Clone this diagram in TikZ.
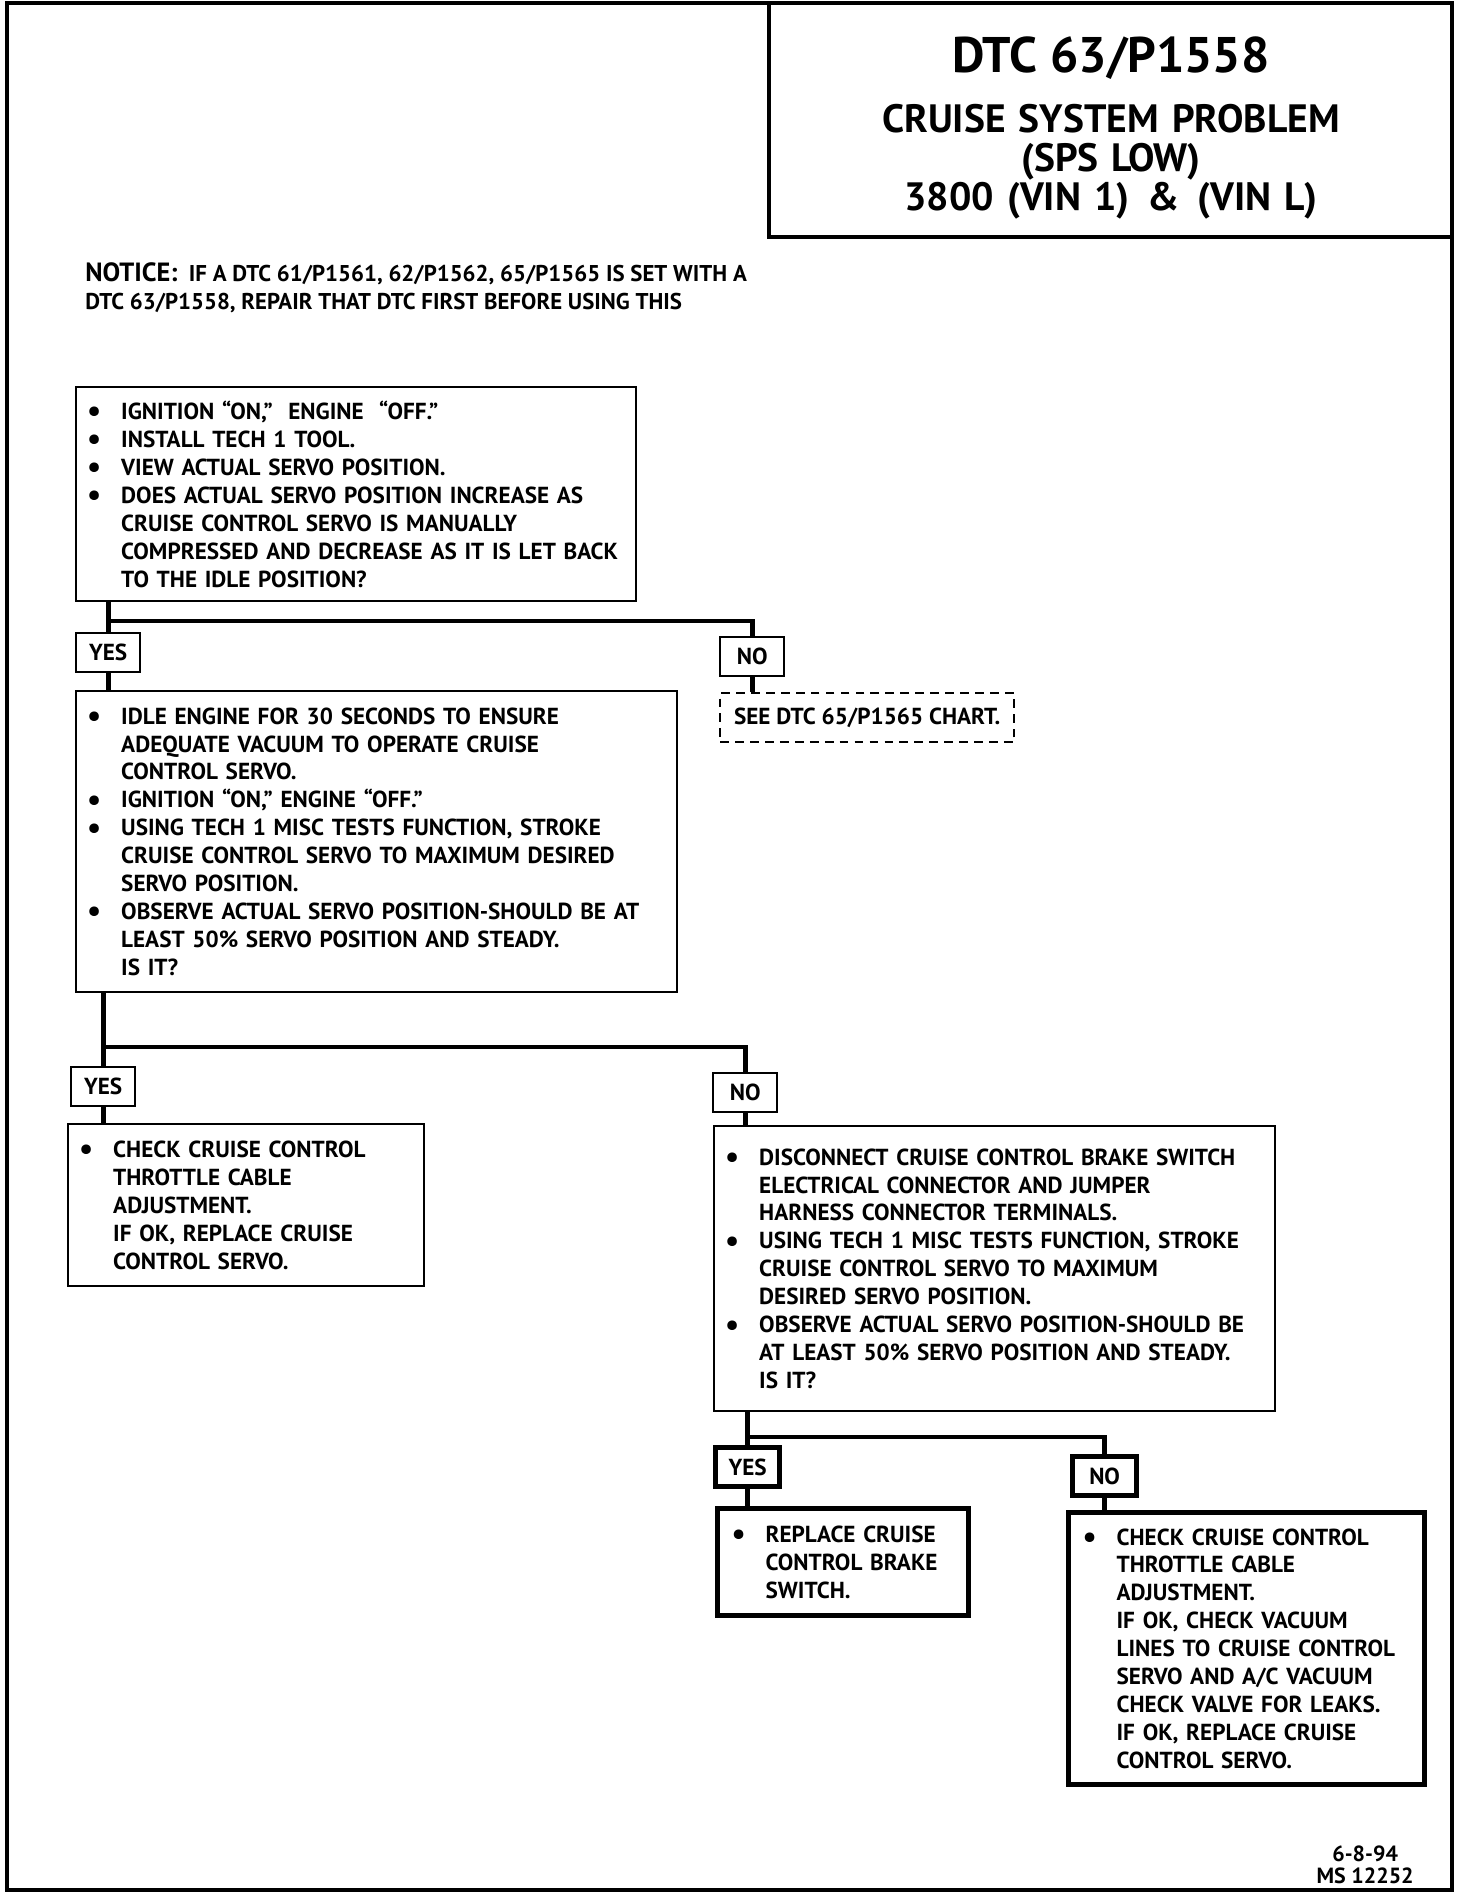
\documentclass[tikz,border=0pt]{standalone}
\usepackage{fontspec}
\setmainfont{PT Sans}

\newcommand{\bul}{\makebox[0.68cm][l]{\raisebox{-0.1em}{\scalebox{1.35}{\textbullet}}}}
\newcommand{\ind}{\hspace*{0.68cm}}

\begin{document}
\begin{tikzpicture}[
    x=0.02cm, y=-0.02cm,
    font=\bfseries\fontsize{13.2}{15.9}\selectfont,
    frame/.style={draw, line width=2.4pt},
    stepbox/.style={draw, line width=1.4pt, anchor=north west, align=left, inner xsep=0.22cm, inner ysep=0pt, text width=#1},
    finalbox/.style={stepbox=#1, line width=3pt, inner xsep=0.28cm},
    tag/.style={draw, line width=1.4pt, anchor=north west, minimum width=1.28cm, minimum height=0.78cm, inner sep=0pt},
    finaltag/.style={tag, line width=3pt},
    jumpbox/.style={draw, dash pattern=on 5pt off 3.5pt, line width=1.4pt, anchor=north west, minimum width=5.88cm, minimum height=0.98cm, inner sep=0pt},
    flow/.style={line width=2.6pt}
]
    \useasboundingbox (0,0) rectangle (1472,1904);

    % frame and title block
    \draw[frame] (7,3) rectangle (1452,1890);
    \draw[frame, line width=2pt] (769,3) |- (1452,237);
    \node[anchor=north, align=center, text width=13cm, inner sep=0pt, font=\bfseries\fontsize{22.5}{22.2}\selectfont] (title) at (1111,36) {%
        {\fontsize{28.5}{30}\selectfont DTC 63/P1558\par}\vspace{12pt}%
        CRUISE SYSTEM PROBLEM\\(SPS LOW)\\3800 (VIN 1)\hspace{0.45em}\&\hspace{0.45em}(VIN L)};

    \node[anchor=north west, align=left, inner sep=0pt, font=\bfseries\fontsize{13}{15.9}\selectfont] (notice) at (85,262)
        {{\fontsize{15}{15.9}\selectfont NOTICE:}\ \ IF A DTC 61/P1561, 62/P1562, 65/P1565 IS SET WITH A\\
         DTC 63/P1558, REPAIR THAT DTC FIRST BEFORE USING THIS};

    % first check
    \node[stepbox=10.76cm, minimum height=4.28cm] (q1) at (75,386) {%
        \bul IGNITION ``ON,'' \ ENGINE \ ``OFF.''\\
        \bul INSTALL TECH 1 TOOL.\\
        \bul VIEW ACTUAL SERVO POSITION.\\
        \bul DOES ACTUAL SERVO POSITION INCREASE AS\\
        \ind CRUISE CONTROL SERVO IS MANUALLY\\
        \ind COMPRESSED AND DECREASE AS IT IS LET BACK\\
        \ind TO THE IDLE POSITION?};
    \node[tag] (yes1) at (75,632) {YES};
    \node[tag] (no1) at (719,636) {NO};
    \node[jumpbox] (see65) at (719,692) {SEE DTC 65/P1565 CHART.};

    % second check
    \node[stepbox=11.58cm, minimum height=6.02cm] (q2) at (75,690) {%
        \bul IDLE ENGINE FOR 30 SECONDS TO ENSURE\\
        \ind ADEQUATE VACUUM TO OPERATE CRUISE\\
        \ind CONTROL SERVO.\\
        \bul IGNITION ``ON,'' ENGINE ``OFF.''\\
        \bul USING TECH 1 MISC TESTS FUNCTION, STROKE\\
        \ind CRUISE CONTROL SERVO TO MAXIMUM DESIRED\\
        \ind SERVO POSITION.\\
        \bul OBSERVE ACTUAL SERVO POSITION-SHOULD BE AT\\
        \ind LEAST 50\% SERVO POSITION AND STEADY.\\
        \ind IS IT?};
    \node[tag] (yes2) at (70,1066) {YES};
    \node[tag] (no2) at (712,1072) {NO};
    \node[stepbox=6.68cm, minimum height=3.24cm] (adjust1) at (67,1123) {%
        \bul CHECK CRUISE CONTROL\\
        \ind THROTTLE CABLE\\
        \ind ADJUSTMENT.\\
        \ind IF OK, REPLACE CRUISE\\
        \ind CONTROL SERVO.};

    % third check
    \node[stepbox=10.78cm, minimum height=5.7cm] (q3) at (713,1125) {%
        \bul DISCONNECT CRUISE CONTROL BRAKE SWITCH\\
        \ind ELECTRICAL CONNECTOR AND JUMPER\\
        \ind HARNESS CONNECTOR TERMINALS.\\
        \bul USING TECH 1 MISC TESTS FUNCTION, STROKE\\
        \ind CRUISE CONTROL SERVO TO MAXIMUM\\
        \ind DESIRED SERVO POSITION.\\
        \bul OBSERVE ACTUAL SERVO POSITION-SHOULD BE\\
        \ind AT LEAST 50\% SERVO POSITION AND STEADY.\\
        \ind IS IT?};
    \node[finaltag] (yes3) at (713,1445) {YES};
    \node[finaltag] (no3) at (1070,1454) {NO};
    \node[finalbox=4.46cm, minimum height=2.14cm] (brake) at (715,1506) {%
        \bul REPLACE CRUISE\\
        \ind CONTROL BRAKE\\
        \ind SWITCH.};
    \node[finalbox=6.56cm, minimum height=5.44cm] (vacuum) at (1066,1510) {%
        \bul CHECK CRUISE CONTROL\\
        \ind THROTTLE CABLE\\
        \ind ADJUSTMENT.\\
        \ind IF OK, CHECK VACUUM\\
        \ind LINES TO CRUISE CONTROL\\
        \ind SERVO AND A/C VACUUM\\
        \ind CHECK VALVE FOR LEAKS.\\
        \ind IF OK, REPLACE CRUISE\\
        \ind CONTROL SERVO.};

    \node[anchor=north east, align=center, inner sep=0pt, font=\bfseries\fontsize{12.5}{12.5}\selectfont] (code) at (1414,1845) {6-8-94\\MS 12252};

    % connectors
    \draw[flow] (q1.south -| yes1.north) -- (yes1.north);
    \draw[flow] (yes1.north) ++(0,-11) -| (no1.north);
    \draw[flow] (yes1.south) -- (yes1.south |- q2.north);
    \draw[flow] (no1.south) -- (no1.south |- see65.north);
    \draw[flow] (q2.south -| yes2.north) -- (yes2.north);
    \draw[flow] (yes2.north) ++(0,-19) -| (no2.north);
    \draw[flow] (yes2.south) -- (yes2.south |- adjust1.north);
    \draw[flow] (no2.south) -- (no2.south |- q3.north);
    \draw[flow] (q3.south -| yes3.north) -- (yes3.north);
    \draw[flow] (yes3.north) ++(0,-8) -| (no3.north);
    \draw[flow] (yes3.south) -- (yes3.south |- brake.north);
    \draw[flow] (no3.south) -- (no3.south |- vacuum.north);
\end{tikzpicture}
\end{document}
